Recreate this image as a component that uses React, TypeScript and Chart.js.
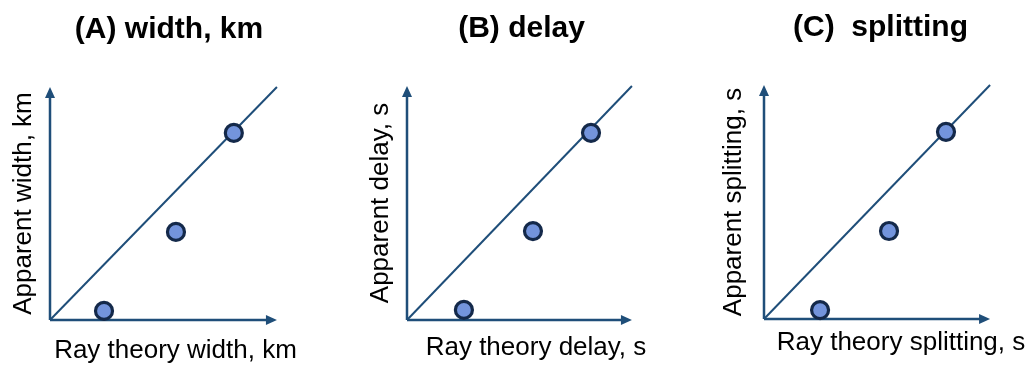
import React, { useEffect, useRef } from 'react';
import { Chart, registerables } from 'chart.js';

Chart.register(...registerables);

// ---- data ----
const panelTitles = ['(A) width, km', '(B) delay', '(C)  splitting'];
const xAxisLabels = ['Ray theory width, km', 'Ray theory delay, s', 'Ray theory splitting, s'];
const yAxisLabels = ['Apparent width, km', 'Apparent delay, s', 'Apparent splitting, s'];

const widthX = [0.238, 0.555, 0.81];
const widthY = [0.039, 0.378, 0.803];
const delayX = [0.253, 0.56, 0.818];
const delayY = [0.043, 0.38, 0.8];
const splitX = [0.248, 0.553, 0.805];
const splitY = [0.038, 0.376, 0.8];

const refLineX = [0, 1];
const refLineY = [0, 1];

const seriesX = [widthX, delayX, splitX];
const seriesY = [widthY, delayY, splitY];

// ---- styling / layout ----
const AXIS_COLOR = '#1F4E79';
const POINT_FILL = '#7394DC';
const POINT_BORDER = '#14294A';
const FONT = "'Liberation Sans', Arial, sans-serif";

const layouts = [
  { left: 0, width: 301, padLeft: 37, yPadTop: -28.6, yPadBottom: 10.4, xPadTop: 15.4, xPadBottom: 1.4, tPadTop: 12, tPadBottom: 39, xMax: 1.106 },
  { left: 344, width: 321, padLeft: 34, yPadTop: -12.6, yPadBottom: 10.4, xPadTop: 12.4, xPadBottom: 4.4, tPadTop: 11, tPadBottom: 39, xMax: 1.147 },
  { left: 700, width: 338, padLeft: 23, yPadTop: -4.6, yPadBottom: 14.4, xPadTop: 8.4, xPadBottom: 9.4, tPadTop: 10, tPadBottom: 39, xMax: 1.212 },
];

const axesArrows = {
  id: 'axesArrows',
  beforeDatasetsDraw(chart: any) {
    const { ctx, scales } = chart;
    const xs = scales.x;
    const ys = scales.y;
    const x0 = xs.getPixelForValue(0);
    const y0 = ys.getPixelForValue(0);
    const x1 = xs.getPixelForValue(1);
    const y1 = ys.getPixelForValue(1);
    ctx.save();
    ctx.strokeStyle = AXIS_COLOR;
    ctx.fillStyle = AXIS_COLOR;
    ctx.lineWidth = 2.5;
    ctx.beginPath();
    ctx.moveTo(x0, y0);
    ctx.lineTo(x1 - 8, y0);
    ctx.moveTo(x0, y0);
    ctx.lineTo(x0, y1 + 8);
    ctx.stroke();
    ctx.beginPath();
    ctx.moveTo(x1, y0);
    ctx.lineTo(x1 - 11, y0 - 5);
    ctx.lineTo(x1 - 11, y0 + 5);
    ctx.closePath();
    ctx.fill();
    ctx.beginPath();
    ctx.moveTo(x0, y1);
    ctx.lineTo(x0 - 5, y1 + 11);
    ctx.lineTo(x0 + 5, y1 + 11);
    ctx.closePath();
    ctx.fill();
    ctx.restore();
  },
};

function Panel({ idx }: { idx: number }) {
  const ref = useRef<HTMLCanvasElement | null>(null);
  const L = layouts[idx];
  useEffect(() => {
    if (!ref.current) return;
    const xs = seriesX[idx];
    const ys = seriesY[idx];
    const chart = new Chart(ref.current, {
      type: 'scatter',
      data: {
        datasets: [
          {
            type: 'line',
            data: refLineX.map((v, i) => ({ x: v, y: refLineY[i] })),
            borderColor: AXIS_COLOR,
            borderWidth: 2,
            pointRadius: 0,
            fill: false,
            clip: false,
            order: 2,
          } as any,
          {
            data: xs.map((v, i) => ({ x: v, y: ys[i] })),
            backgroundColor: POINT_FILL,
            borderColor: POINT_BORDER,
            borderWidth: 3.2,
            pointRadius: 8.5,
            clip: false,
            order: 1,
          } as any,
        ],
      },
      options: {
        animation: false,
        responsive: false,
        devicePixelRatio: 1,
        layout: { autoPadding: false, padding: { left: L.padLeft, right: 0, top: 0, bottom: 0 } },
        plugins: {
          legend: { display: false },
          tooltip: { enabled: false },
          title: {
            display: true,
            text: panelTitles[idx],
            color: '#000',
            font: { family: FONT, size: 30, weight: 'bold', lineHeight: 1.2 },
            padding: { top: L.tPadTop, bottom: L.tPadBottom },
          },
        },
        scales: {
          x: {
            type: 'linear',
            min: 0,
            max: L.xMax,
            ticks: { display: false },
            grid: { display: false, drawTicks: false },
            border: { display: false },
            title: {
              display: true,
              text: xAxisLabels[idx],
              color: '#000',
              font: { family: FONT, size: 26, lineHeight: 1.2 },
              padding: { top: L.xPadTop, bottom: L.xPadBottom },
            },
          },
          y: {
            type: 'linear',
            min: 0,
            max: 1,
            ticks: { display: false },
            grid: { display: false, drawTicks: false },
            border: { display: false },
            title: {
              display: true,
              text: yAxisLabels[idx],
              color: '#000',
              font: { family: FONT, size: 26, lineHeight: 1.2 },
              padding: { top: L.yPadTop, bottom: L.yPadBottom },
            },
          },
        },
      } as any,
      plugins: [axesArrows],
    });
    return () => chart.destroy();
  }, [idx]);
  return (
    <canvas
      ref={ref}
      width={L.width}
      height={368}
      style={{ position: 'absolute', left: L.left, top: 0, width: L.width, height: 368 }}
    />
  );
}

export default function App() {
  return (
    <div
      style={{
        position: 'fixed',
        left: 0,
        top: 0,
        width: 1033,
        height: 368,
        overflow: 'hidden',
        background: '#fff',
      }}
    >
      <Panel idx={0} />
      <Panel idx={1} />
      <Panel idx={2} />
    </div>
  );
}
